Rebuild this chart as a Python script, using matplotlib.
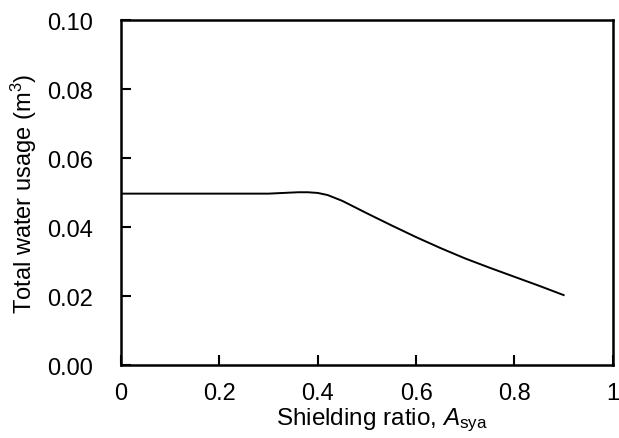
import numpy as np
import matplotlib
matplotlib.use('Agg')
import matplotlib.pyplot as plt

plt.rcParams['font.family'] = ['Liberation Sans', 'DejaVu Sans']
plt.rcParams['mathtext.fontset'] = 'custom'
plt.rcParams['mathtext.rm'] = 'Liberation Sans'
plt.rcParams['mathtext.it'] = 'Liberation Sans:italic'

# shielding ratio vs total water usage
ratio = [0, 0.1, 0.2, 0.3, 0.33, 0.36, 0.38, 0.40, 0.42, 0.45, 0.5, 0.55,
         0.6, 0.65, 0.7, 0.75, 0.8, 0.85, 0.9]
water = [0.0497, 0.0497, 0.0497, 0.0497, 0.0499, 0.0501, 0.0501, 0.0499, 0.0493,
         0.0476, 0.0440, 0.0405, 0.0371, 0.0339, 0.0309, 0.0282, 0.0256, 0.0230, 0.0203]

xticks = [0, 0.2, 0.4, 0.6, 0.8, 1]
xlabels = ['0', '0.2', '0.4', '0.6', '0.8', '1']
yticks = [0.00, 0.02, 0.04, 0.06, 0.08, 0.10]

fig = plt.figure(figsize=(6.19, 4.39), dpi=100)
ax = fig.add_axes([0.1955, 0.166, 0.7945, 0.786])

ax.plot(ratio, water, color='k', lw=1.4)

ax.set_xlim(0, 1)
ax.set_ylim(0, 0.1)
ax.set_xticks(xticks)
ax.set_xticklabels(xlabels)
ax.set_yticks(yticks)
ax.set_yticklabels(['%.2f' % t for t in yticks])
ax.tick_params(direction='in', length=7, width=1.5, labelsize=17)
ax.tick_params(axis='x', pad=12)
ax.tick_params(axis='y', pad=20)
for s in ax.spines.values():
    s.set_linewidth(1.8)

ax.set_xlabel(r'Shielding ratio, $\mathit{A}_\mathregular{sya}$', fontsize=17.5)
ax.xaxis.set_label_coords(0.53, -0.118)
ax.xaxis.label.set_verticalalignment('top')
ax.set_ylabel(r'Total water usage (m$^\mathregular{3}$)', fontsize=17, labelpad=6)

fig.savefig('out.png', dpi=100)
